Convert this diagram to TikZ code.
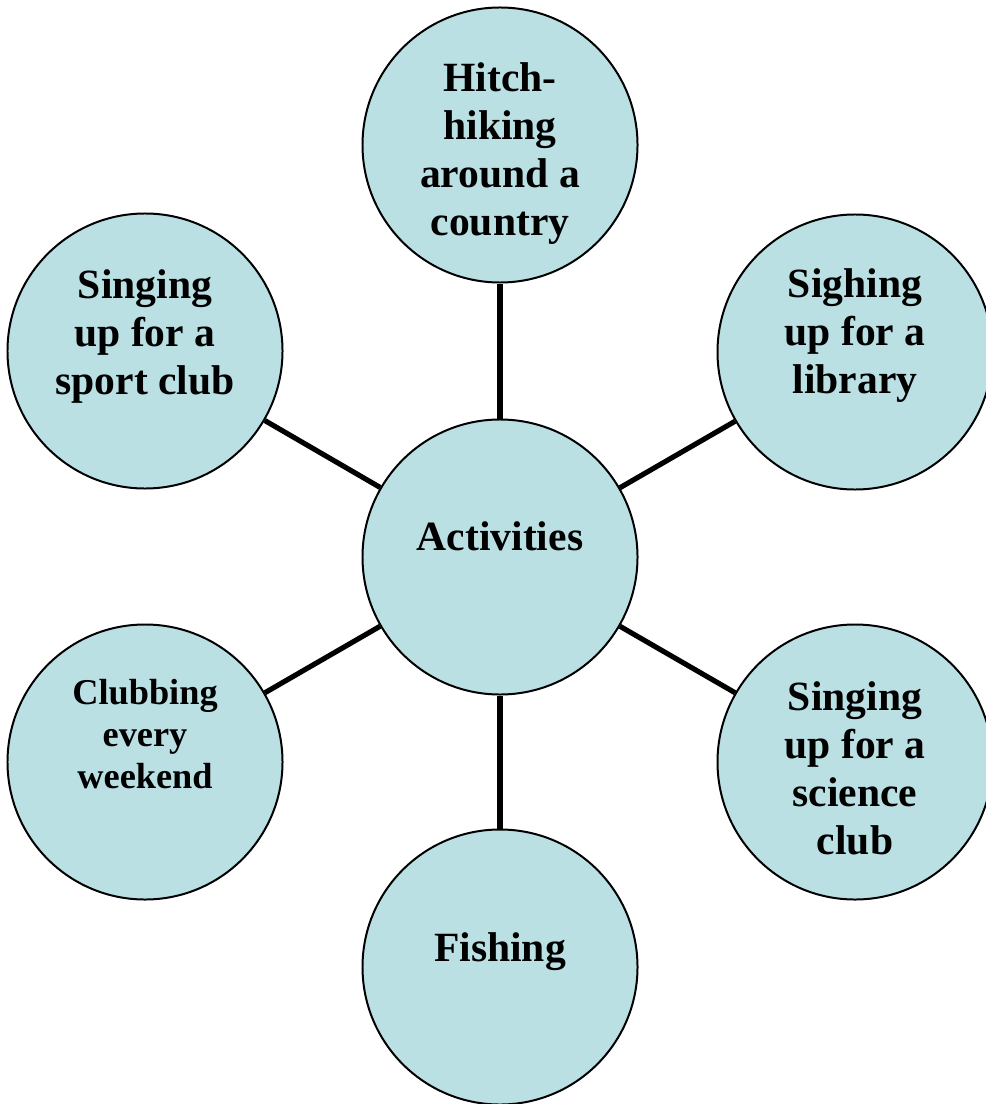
\documentclass[tikz,border=0pt]{standalone}
\usepackage{fontspec}
\setmainfont{Liberation Serif}
\definecolor{bubblefill}{RGB}{186,224,228}
\tikzset{
  bubble/.style={circle,draw,fill=bubblefill,line width=1.7pt,minimum size=8.25cm,inner sep=0pt},
  words/.style={align=center,text depth=0pt,inner sep=0pt,font=\bfseries\fontsize{35.5}{41}\selectfont},
  smallwords/.style={words,font=\bfseries\fontsize{31}{36}\selectfont},
  spoke/.style={line width=4.4pt}
}
\begin{document}
\begin{tikzpicture}[x=0.03cm,y=-0.03cm]
                \useasboundingbox (0,0) rectangle (985,1104);
                \node[bubble] (act) at (500,557) {};
                \node[bubble] (hike) at (500,145) {};
                \node[bubble] (sport) at (145,351) {};
                \node[bubble] (library) at (855,352) {};
                \node[bubble] (clubbing) at (145,762) {};
                \node[bubble] (science) at (855,762) {};
                \node[bubble] (fishing) at (500,967) {};
                \draw[spoke] (act)--(hike);
                \draw[spoke] (act)--(sport);
                \draw[spoke] (act)--(library);
                \draw[spoke] (act)--(clubbing);
                \draw[spoke] (act)--(science);
                \draw[spoke] (act)--(fishing);
                \node[words] (acttext) at (500,536) {Activities};
                \node[words] (hiketext) at (500,149) {Hitch-\\hiking\\around a\\country};
                \node[words] (sporttext) at (145,332) {Singing\\up for a\\sport club};
                \node[words] (librarytext) at (855,331) {Sighing\\up for a\\library};
                \node[smallwords] (clubbingtext) at (145,734) {Clubbing\\every\\weekend};
                \node[words] (sciencetext) at (855,768) {Singing\\up for a\\science\\club};
                \node[words] (fishingtext) at (500,947) {Fishing};
            \end{tikzpicture}
\end{document}
